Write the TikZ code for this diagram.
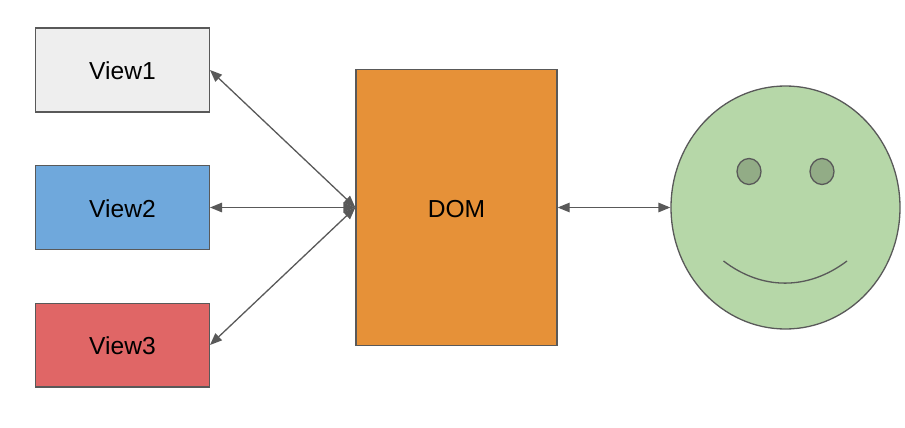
\documentclass[tikz,border=0pt]{standalone}
\usepackage{fontspec}
\setmainfont{Liberation Sans}
\usetikzlibrary{arrows.meta,shapes.geometric}
\definecolor{edgec}{HTML}{595959}
\definecolor{vone}{HTML}{EEEEEE}
\definecolor{vtwo}{HTML}{6FA8DC}
\definecolor{vthree}{HTML}{E06666}
\definecolor{domc}{HTML}{E69138}
\definecolor{facec}{HTML}{B6D7A8}
\definecolor{eyec}{HTML}{92AC86}
\tikzset{x=1pt,y=-1pt,
 boxn/.style={draw=edgec,line width=1.3pt,minimum width=173.7pt,minimum height=83.7pt,inner sep=0pt,text height=19pt,text depth=0pt,font=\fontsize{24.6pt}{28pt}\selectfont,text=black},
 link/.style={draw=edgec,line width=1.3pt,{Triangle[length=12pt,width=9.5pt]}-{Triangle[length=12pt,width=9.5pt]}},
 eyen/.style={ellipse,draw=edgec,line width=1.3pt,fill=eyec,minimum width=24pt,minimum height=26pt,inner sep=0pt}}
\begin{document}
\begin{tikzpicture}
\useasboundingbox (0,0) rectangle (905,428);
\node[boxn,fill=vone] (v1) at (122.5,70) {View1};
\node[boxn,fill=vtwo] (v2) at (122.5,207.5) {View2};
\node[boxn,fill=vthree] (v3) at (122.5,345) {View3};
\node[boxn,fill=domc,minimum width=201pt,minimum height=276pt] (dom) at (456.5,207.5) {DOM};
\node[ellipse,draw=edgec,line width=1.3pt,fill=facec,minimum width=229pt,minimum height=243pt,inner sep=0pt] (face) at (785.5,207.5) {};
\node[eyen] (e1) at (749,171.5) {};
\node[eyen] (e2) at (822,171.5) {};
\coordinate (ma) at (723.5,261);
\coordinate (mb) at (847,261);
\draw[edgec,line width=1.3pt] (ma) .. controls (762,290.5) and (808,290.5) .. (mb);
\draw[link] (v1.east) -- (dom.west);
\draw[link] (v2.east) -- (dom.west);
\draw[link] (v3.east) -- (dom.west);
\draw[link] (dom.east) -- (face.west);
\end{tikzpicture}
\end{document}
